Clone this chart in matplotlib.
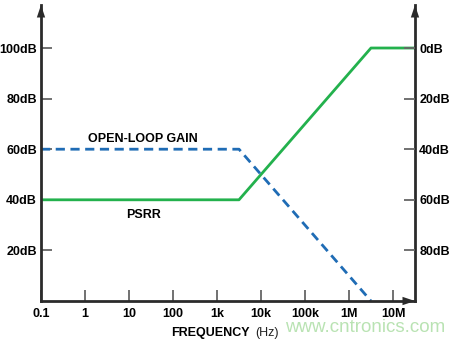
import matplotlib.pyplot as plt
import numpy as np

plt.rcParams["font.family"] = ["Liberation Sans", "DejaVu Sans"]

freq_ticks = [0.1, 1, 10, 100, 1e3, 1e4, 1e5, 1e6, 1e7]
freq_labels = ["0.1", "1", "10", "100", "1k", "10k", "100k", "1M", "10M"]
left_ticks = [20, 40, 60, 80, 100]
left_labels = ["20dB", "40dB", "60dB", "80dB", "100dB"]
right_labels = ["80dB", "60dB", "40dB", "20dB", "0dB"]

psrr_f = [0.1, 3.16e3, 3.16e6, 3.16e7]
psrr_db = [40, 40, 100, 100]
olg_f = [0.1, 3.16e3, 3.16e6]
olg_db = [60, 60, 0]

GREEN = "#23b14d"
BLUE = "#1f6cb5"
AXIS = "#2b2b2b"
TICK = "#666666"
FS = 9

fig = plt.figure(figsize=(4.5, 3.42), dpi=100)
ax = fig.add_axes([41 / 450, 41 / 342, 374 / 450, 296 / 342])
ax.set_xscale("log")
ax.set_xlim(0.1, 10 ** 7.5)
ax.set_ylim(0, 117)

ax.plot(psrr_f, psrr_db, color=GREEN, lw=2.0, solid_capstyle="butt", clip_on=False)
ax.plot(olg_f, olg_db, color=BLUE, lw=2.0, ls=(0, (3.3, 2.0)), clip_on=False)

ax.spines["top"].set_visible(False)
for side in ("left", "right", "bottom"):
    ax.spines[side].set_color(AXIS)
    ax.spines[side].set_linewidth(2.0)

ax.set_xticks(freq_ticks)
ax.set_xticklabels(freq_labels, fontsize=FS, fontweight="bold")
ax.xaxis.set_minor_locator(plt.NullLocator())
ax.tick_params(axis="x", direction="in", length=8, width=1.3, color=TICK, pad=5)

ax.set_yticks(left_ticks)
ax.set_yticklabels(left_labels, fontsize=FS, fontweight="bold")
ax.tick_params(axis="y", direction="in", length=8, width=1.3, color=TICK, pad=3)

ax2 = ax.twinx()
ax2.set_ylim(ax.get_ylim())
ax2.set_yticks(left_ticks)
ax2.set_yticklabels(right_labels, fontsize=FS, fontweight="bold")
ax2.tick_params(axis="y", direction="in", length=8, width=1.3, color=TICK, pad=3)
for side in ("top", "left", "bottom", "right"):
    ax2.spines[side].set_visible(False)

# arrow heads at the axis ends
arrow = dict(arrowstyle="-|>,head_length=0.9,head_width=0.3", color=AXIS, lw=0, shrinkA=0, shrinkB=0)
ax.annotate("", xy=(0, 1.0), xytext=(0, 0.95), xycoords="axes fraction", arrowprops=arrow)
ax.annotate("", xy=(1, 1.0), xytext=(1, 0.95), xycoords="axes fraction", arrowprops=arrow)
ax.annotate("", xy=(1, 0), xytext=(0.95, 0), xycoords="axes fraction", arrowprops=arrow)

ax.text(1.17, 61.5, "OPEN-LOOP GAIN", fontsize=FS, fontweight="bold", ha="left", va="bottom")
ax.text(21, 36.5, "PSRR", fontsize=FS, fontweight="bold", ha="center", va="top")

fig.text(250 / 450, 1 - 333 / 342, "FREQUENCY", fontsize=FS, fontweight="bold", ha="right", va="center")
fig.text(255 / 450, 1 - 333 / 342, "(Hz)", fontsize=FS, ha="left", va="center", color="#222222")

fig.text(365 / 450, 1 - 328 / 342, "www.cntronics.com", fontsize=13.5, color="#a8dca0",
         alpha=0.8, ha="center", va="center")

fig.savefig("out.png", dpi=100)
